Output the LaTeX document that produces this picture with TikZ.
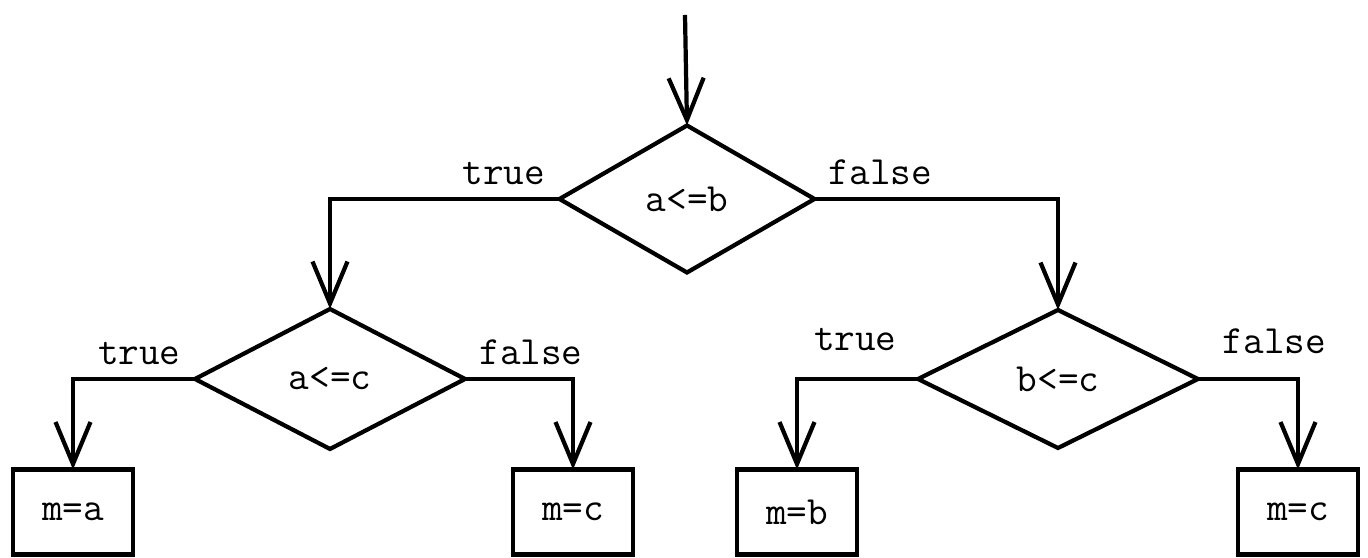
\documentclass[tikz,border=0pt]{standalone}
\usetikzlibrary{arrows.meta}
\usetikzlibrary{shapes.geometric, positioning, calc}

\begin{document}
\begin{tikzpicture}[
    font=\ttfamily\fontsize{11.4}{13}\selectfont,
    line width=1.2pt,
    test/.style={diamond, draw=black, inner sep=0pt, outer sep=0pt},
    assign/.style={rectangle, draw=black, minimum width=1.2cm, minimum height=0.85cm, inner sep=0pt, outer sep=0pt},
    flow/.style={-{Straight Barb[length=4.2mm, width=3.5mm, line width=1.2pt]}},
    lbl/.style={inner sep=3.5pt}
  ]
      \useasboundingbox (0, 0) rectangle (13.68, 5.58);

      \coordinate (start) at (6.85, 5.43);

      \node[test, minimum width=2.55cm, minimum height=1.47cm] (ab) at (6.87, 3.59) {a<=b};
      \node[test, minimum width=2.70cm, minimum height=1.40cm] (ac) at (3.30, 1.79) {a<=c};
      \node[test, minimum width=2.80cm, minimum height=1.38cm] (bc) at (10.58, 1.79) {b<=c};

      \node[assign] (ma) at (0.73, 0.46) {m=a};
      \node[assign] (mc1) at (5.73, 0.46) {m=c};
      \node[assign] (mb) at (7.97, 0.46) {m=b};
      \node[assign] (mc2) at (12.98, 0.46) {m=c};

      \draw[flow] (start) -- (ab.north);

      \draw[flow] (ab.west) node[lbl, above left] (abt) {true} -| (ac.north);
      \draw[flow] (ab.east) node[lbl, above right] (abf) {false} -| (bc.north);

      \draw[flow] (ac.west) node[lbl, above left] (act) {true} -| (ma.north);
      \draw[flow] (ac.east) node[lbl, above right] (acf) {false} -| (mc1.north);

      \draw[flow] (bc.west) node[lbl, above left, yshift=4pt, xshift=-2pt] (bct) {true} -| (mb.north);
      \draw[flow] (bc.east) node[lbl, above right, yshift=3pt, xshift=3pt] (bcf) {false} -| (mc2.north);

    \end{tikzpicture}
\end{document}
